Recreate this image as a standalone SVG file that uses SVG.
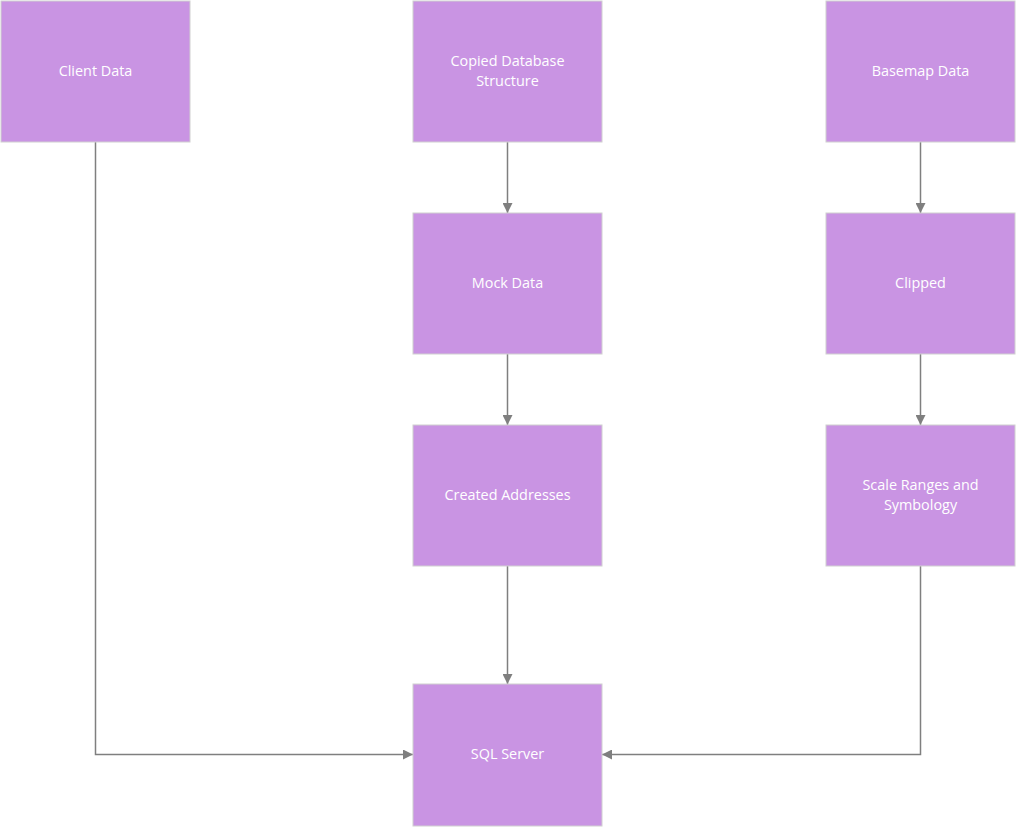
<svg xmlns="http://www.w3.org/2000/svg" width="1016" height="827" viewBox="0 0 1016 827">
  <style>
    .box { fill: #C994E3; stroke: #D0D0D0; stroke-width: 1; }
    .label { font-family: "Open Sans", "Noto Sans", sans-serif; font-size: 14.4px; fill: #FFFFFF; text-anchor: middle; dominant-baseline: central; }
    .wire { fill: none; stroke: #7F7F7F; stroke-width: 1.5; marker-end: url(#arrow); }
  </style>
  <defs>
    <marker id="arrow" viewBox="0 0 10 10" refX="10" refY="5" markerWidth="10" markerHeight="10" markerUnits="userSpaceOnUse" orient="auto">
      <path d="M0,0 L10,5 L0,10 Z" fill="#7F7F7F"/>
    </marker>
  </defs>
  <rect width="1016" height="827" fill="#FFFFFF"/>

  <g id="connectors">
    <polyline class="wire" points="95.5,142 95.5,754.5 413,754.5"/>
    <polyline class="wire" points="507.5,142 507.5,213"/>
    <polyline class="wire" points="507.5,354 507.5,425"/>
    <polyline class="wire" points="507.5,566 507.5,684"/>
    <polyline class="wire" points="920.5,142 920.5,213"/>
    <polyline class="wire" points="920.5,354 920.5,425"/>
    <polyline class="wire" points="920.5,566 920.5,754.5 602,754.5"/>
  </g>

  <g id="client-data">
    <rect class="box" x="1" y="1" width="189" height="141"/>
    <text class="label" x="95.5" y="70.5">Client Data</text>
  </g>
  <g id="copied-database-structure">
    <rect class="box" x="413" y="1" width="189" height="141"/>
    <text class="label" x="507.5" y="60.5">Copied Database</text>
    <text class="label" x="507.5" y="80.5">Structure</text>
  </g>
  <g id="basemap-data">
    <rect class="box" x="826" y="1" width="189" height="141"/>
    <text class="label" x="920.5" y="70.5">Basemap Data</text>
  </g>
  <g id="mock-data">
    <rect class="box" x="413" y="213" width="189" height="141"/>
    <text class="label" x="507.5" y="282.5">Mock Data</text>
  </g>
  <g id="clipped">
    <rect class="box" x="826" y="213" width="189" height="141"/>
    <text class="label" x="920.5" y="282.5">Clipped</text>
  </g>
  <g id="created-addresses">
    <rect class="box" x="413" y="425" width="189" height="141"/>
    <text class="label" x="507.5" y="494.5">Created Addresses</text>
  </g>
  <g id="scale-ranges-and-symbology">
    <rect class="box" x="826" y="425" width="189" height="141"/>
    <text class="label" x="920.5" y="484.5">Scale Ranges and</text>
    <text class="label" x="920.5" y="504.5">Symbology</text>
  </g>
  <g id="sql-server">
    <rect class="box" x="413" y="684" width="189" height="142"/>
    <text class="label" x="507.5" y="753.5">SQL Server</text>
  </g>
</svg>
